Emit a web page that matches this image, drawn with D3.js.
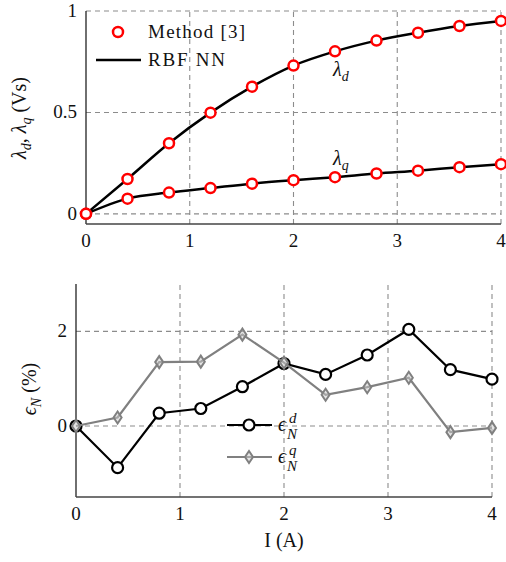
<!DOCTYPE html>
<html>
<head>
<meta charset="utf-8">
<script src="https://cdn.jsdelivr.net/npm/d3@7"></script>
<style>
body { margin: 0; background: #fff; }
svg text { font-family: "Liberation Serif", "DejaVu Serif", serif; fill: #111; }
</style>
</head>
<body>
<div id="main"></div>
<script>
var current = [0, 0.4, 0.8, 1.2, 1.6, 2.0, 2.4, 2.8, 3.2, 3.6, 4.0];
var lambdaD = [0, 0.172, 0.348, 0.499, 0.627, 0.731, 0.801, 0.854, 0.893, 0.926, 0.951];
var lambdaQ = [0, 0.075, 0.105, 0.127, 0.149, 0.166, 0.181, 0.199, 0.213, 0.230, 0.245];
var errD = [0, -0.88, 0.27, 0.37, 0.83, 1.32, 1.09, 1.50, 2.04, 1.19, 0.99];
var errQ = [0, 0.18, 1.35, 1.36, 1.93, 1.34, 0.66, 0.82, 1.02, -0.13, -0.04];
var xTicks = [0, 1, 2, 3, 4];
var topYTicks = [0, 0.5, 1];
var botYTicks = [0, 2];

var w = 506;
var h = 562;
var fs = 19;

var svg = d3.select("#main").append("svg").
attr("width", w).
attr("height", h);

function zip(ys) {
  return current.map(function (x, i) {return [x, ys[i]];});
}

function grid(g, x, y, xt, yt) {
  var x0 = x.range()[0], x1 = x.range()[1];
  var y0 = y.range()[0], y1 = y.range()[1];
  g.selectAll(".hg").data(yt).enter().append("line").
  attr("x1", x0).attr("x2", x1).
  attr("y1", function (d) {return y(d);}).
  attr("y2", function (d) {return y(d);}).
  attr("stroke", "#8c8c8c").attr("stroke-width", 1.1).
  attr("stroke-dasharray", "5,4");
  g.selectAll(".vg").data(xt.filter(function (d) {return d > 0;})).enter().append("line").
  attr("y1", y0).attr("y2", y1).
  attr("x1", function (d) {return x(d);}).
  attr("x2", function (d) {return x(d);}).
  attr("stroke", "#8c8c8c").attr("stroke-width", 1.1).
  attr("stroke-dasharray", "5,4");
  // axis lines, left and bottom only
  g.append("line").attr("x1", x0).attr("x2", x0).attr("y1", y0).attr("y2", y1).
  attr("stroke", "#222").attr("stroke-width", 1.3);
  g.append("line").attr("x1", x0).attr("x2", x1).attr("y1", y0).attr("y2", y0).
  attr("stroke", "#444").attr("stroke-width", 1.3);
  g.selectAll(".xl").data(xt).enter().append("text").
  attr("x", function (d) {return x(d);}).
  attr("y", y0 + 23).
  attr("text-anchor", "middle").
  attr("font-size", fs).
  text(function (d) {return d;});
  g.selectAll(".yl").data(yt).enter().append("text").
  attr("x", x0 - 9).
  attr("y", function (d) {return y(d) + 6;}).
  attr("text-anchor", "end").
  attr("font-size", fs).
  text(function (d) {return d;});
}

// ---- top: flux linkage ----
var x1 = d3.scaleLinear().domain([0, 4]).range([86, 501]);
var y1 = d3.scaleLinear().domain([-0.05, 1]).range([224, 11]);
var topG = svg.append("g");
grid(topG, x1, y1, xTicks, topYTicks);

var smooth = d3.line().
x(function (d) {return x1(d[0]);}).
y(function (d) {return y1(d[1]);}).
curve(d3.curveMonotoneX);

[lambdaD, lambdaQ].forEach(function (s) {
  topG.append("path").datum(zip(s)).
  attr("d", smooth).
  attr("fill", "none").attr("stroke", "#000").attr("stroke-width", 2.5);
  topG.selectAll(null).data(zip(s)).enter().append("circle").
  attr("cx", function (d) {return x1(d[0]);}).
  attr("cy", function (d) {return y1(d[1]);}).
  attr("r", 5).
  attr("fill", "#fff").attr("stroke", "#f00").attr("stroke-width", 2.5);
});

// curve labels
var ld = topG.append("text").attr("x", x1(2.4) - 2).attr("y", y1(0.801) + 25).attr("font-size", 20);
ld.append("tspan").attr("font-style", "italic").text("λ");
ld.append("tspan").attr("font-style", "italic").attr("font-size", 14).attr("dy", 5).text("d");
var lq = topG.append("text").attr("x", x1(2.4) - 2).attr("y", y1(0.181) - 12).attr("font-size", 20);
lq.append("tspan").attr("font-style", "italic").text("λ");
lq.append("tspan").attr("font-style", "italic").attr("font-size", 14).attr("dy", 5).text("q");

// legend
topG.append("circle").attr("cx", 118).attr("cy", 32).attr("r", 5).
attr("fill", "#fff").attr("stroke", "#f00").attr("stroke-width", 2.5);
topG.append("text").attr("x", 148).attr("y", 38).attr("font-size", fs).
attr("textLength", 97).text("Method [3]");
topG.append("line").attr("x1", 96).attr("x2", 141).attr("y1", 60).attr("y2", 60).
attr("stroke", "#000").attr("stroke-width", 2.5);
topG.append("text").attr("x", 148).attr("y", 66).attr("font-size", fs).
attr("textLength", 77).text("RBF NN");

var yl1 = topG.append("text").
attr("transform", "translate(26," + 118 + ") rotate(-90)").
attr("text-anchor", "middle").
attr("font-size", 20);
yl1.append("tspan").attr("font-style", "italic").text("λ");
yl1.append("tspan").attr("font-style", "italic").attr("font-size", 14).attr("dy", 5).text("d");
yl1.append("tspan").attr("dy", -5).text(", ");
yl1.append("tspan").attr("font-style", "italic").text("λ");
yl1.append("tspan").attr("font-style", "italic").attr("font-size", 14).attr("dy", 5).text("q");
yl1.append("tspan").attr("dy", -5).text(" (Vs)");

// ---- bottom: error ----
var x2 = d3.scaleLinear().domain([0, 4]).range([76, 492]);
var y2 = d3.scaleLinear().domain([-1.5, 3]).range([497, 284]);
var botG = svg.append("g");
grid(botG, x2, y2, xTicks, botYTicks);

var straight = d3.line().
x(function (d) {return x2(d[0]);}).
y(function (d) {return y2(d[1]);});

var diamond = "M0,-6L4,0L0,6L-4,0Z";

botG.append("path").datum(zip(errD)).attr("d", straight).
attr("fill", "none").attr("stroke", "#000").attr("stroke-width", 2.2);
botG.selectAll(null).data(zip(errD)).enter().append("circle").
attr("cx", function (d) {return x2(d[0]);}).
attr("cy", function (d) {return y2(d[1]);}).
attr("r", 5.5).
attr("fill", "#fff").attr("stroke", "#000").attr("stroke-width", 2.2);

botG.append("path").datum(zip(errQ)).attr("d", straight).
attr("fill", "none").attr("stroke", "#808080").attr("stroke-width", 2.2);
botG.selectAll(null).data(zip(errQ)).enter().append("path").
attr("d", diamond).
attr("transform", function (d) {return "translate(" + x2(d[0]) + "," + y2(d[1]) + ")";}).
attr("fill", "#ccc").attr("fill-opacity", 0.5).
attr("stroke", "#808080").attr("stroke-width", 2);

// legend
botG.append("line").attr("x1", 227).attr("x2", 272).attr("y1", 425).attr("y2", 425).
attr("stroke", "#000").attr("stroke-width", 2.2);
botG.append("circle").attr("cx", 249).attr("cy", 425).attr("r", 5.5).
attr("fill", "#fff").attr("stroke", "#000").attr("stroke-width", 2.2);
botG.append("line").attr("x1", 227).attr("x2", 272).attr("y1", 457).attr("y2", 457).
attr("stroke", "#808080").attr("stroke-width", 2.2);
botG.append("path").attr("d", diamond).attr("transform", "translate(249,457)").
attr("fill", "#ccc").attr("fill-opacity", 0.5).
attr("stroke", "#808080").attr("stroke-width", 2);

[["d", 431], ["q", 463]].forEach(function (e) {
  botG.append("text").attr("x", 278).attr("y", e[1]).attr("font-size", 20).
  attr("font-style", "italic").text("ϵ");
  botG.append("text").attr("x", 289).attr("y", e[1] - 8).attr("font-size", 15).
  attr("font-style", "italic").text(e[0]);
  botG.append("text").attr("x", 287).attr("y", e[1] + 8).attr("font-size", 15).
  attr("font-style", "italic").text("N");
});

var yl2 = botG.append("text").
attr("transform", "translate(36," + 389 + ") rotate(-90)").
attr("text-anchor", "middle").
attr("font-size", 20);
yl2.append("tspan").attr("font-style", "italic").text("ϵ");
yl2.append("tspan").attr("font-style", "italic").attr("font-size", 14).attr("dy", 5).text("N");
yl2.append("tspan").attr("dy", -5).text(" (%)");

botG.append("text").attr("x", x2(2)).attr("y", 547).
attr("text-anchor", "middle").attr("font-size", 20).text("I (A)");
</script>
</body>
</html>
